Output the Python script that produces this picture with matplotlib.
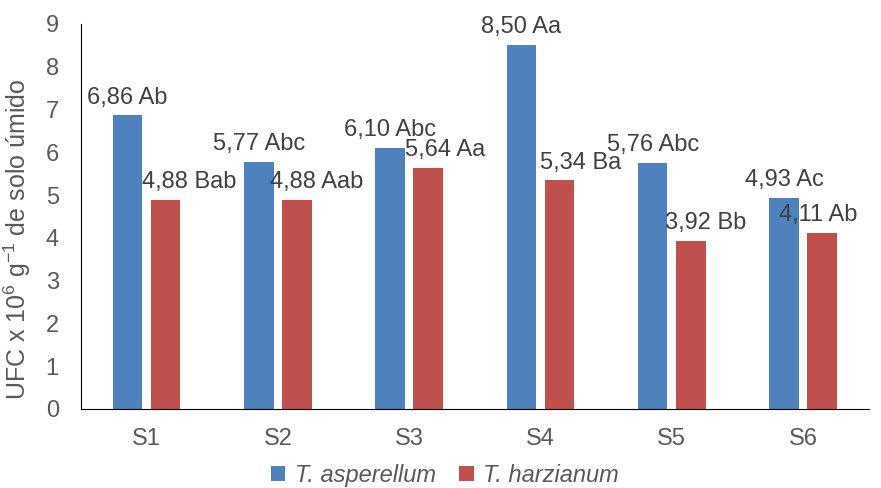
import matplotlib.pyplot as plt
import numpy as np

plt.rcParams["font.family"] = ["Liberation Sans", "DejaVu Sans"]
plt.rcParams["mathtext.fontset"] = "custom"
plt.rcParams["mathtext.rm"] = "Liberation Sans"
plt.rcParams["mathtext.it"] = "Liberation Sans:italic"

categories = ["S1", "S2", "S3", "S4", "S5", "S6"]
asperellum = [6.86, 5.77, 6.10, 8.50, 5.76, 4.93]
harzianum = [4.88, 4.88, 5.64, 5.34, 3.92, 4.11]
asp_letters = ["Ab", "Abc", "Abc", "Aa", "Abc", "Ac"]
har_letters = ["Bab", "Aab", "Aa", "Ba", "Bb", "Ab"]
# horizontal nudge (points) of the harzianum labels, as placed in the original
har_shift = [17, 14, 12, 15, 11, -3]

blue = "#4F81BD"
red = "#C0504D"
txt = "#404040"

fig = plt.figure(figsize=(8.81, 4.88), dpi=100)
ax = fig.add_axes([0.092, 0.162, 0.894, 0.789])

x = np.arange(len(categories))
w = 0.225
off = 0.145
ax.bar(x - off, asperellum, w, color=blue, label="T. asperellum")
ax.bar(x + off, harzianum, w, color=red, label="T. harzianum")

for i in range(len(categories)):
    ax.annotate(f"{asperellum[i]:.2f} {asp_letters[i]}".replace(".", ","),
                (x[i] - off, asperellum[i]), xytext=(0, 5), textcoords="offset points",
                ha="center", va="bottom", fontsize=17, color=txt)
    ax.annotate(f"{harzianum[i]:.2f} {har_letters[i]}".replace(".", ","),
                (x[i] + off, harzianum[i]), xytext=(har_shift[i], 5), textcoords="offset points",
                ha="center", va="bottom", fontsize=17, color=txt)

ax.set_xlim(-0.5, len(categories) - 0.5)
ax.set_ylim(0, 9)
ax.set_yticks(range(0, 10))
ax.set_xticks(x)
ax.set_xticklabels(categories)
ax.tick_params(axis="both", length=0, labelsize=17, colors="#595959")
ax.tick_params(axis="x", pad=14)
ax.tick_params(axis="y", pad=16)
ax.spines["top"].set_visible(False)
ax.spines["right"].set_visible(False)
ax.spines["left"].set_color("black")
ax.spines["bottom"].set_color("black")

ax.set_ylabel("UFC x 10$^{\\mathrm{6}}$ g$^{\\mathrm{-1}}$ de solo úmido", fontsize=18,
              color="#595959")
ax.yaxis.set_label_coords(-0.061, 0.44)

leg = fig.legend(loc="lower center", bbox_to_anchor=(0.505, -0.042), ncol=2, frameon=False,
                 prop={"size": 17, "style": "italic"}, handlelength=0.6, handleheight=0.6,
                 handletextpad=0.4, columnspacing=1.0)
for t in leg.get_texts():
    t.set_color("#595959")

fig.savefig("out.png", dpi=100)
